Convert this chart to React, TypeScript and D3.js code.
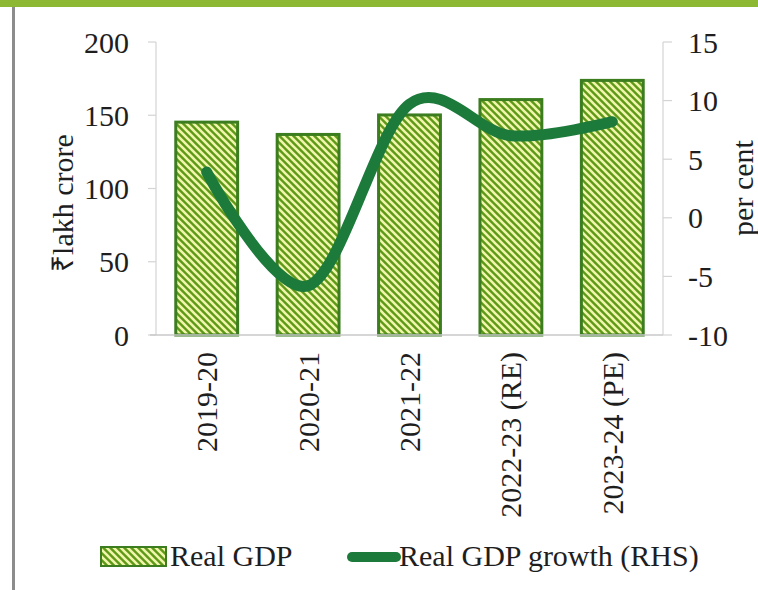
import React from "react";
import * as d3 from "d3";

const categories = ["2019-20", "2020-21", "2021-22", "2022-23 (RE)", "2023-24 (PE)"];
const realGdp = [145.3, 136.9, 150.2, 160.7, 173.8];
const growth = [3.9, -5.8, 9.7, 7.0, 8.2];
const leftTicks = [0, 50, 100, 150, 200];
const rightTicks = [-10, -5, 0, 5, 10, 15];
const legendLabels = ["Real GDP", "Real GDP growth (RHS)"];
const leftTitle = "₹lakh crore";
const rightTitle = "per cent";

const W = 758;
const H = 590;
const FONT = "'Liberation Serif', 'Times New Roman', serif";

export default function App() {
  const x0 = 156, x1 = 663, yTop = 42, yBot = 335;
  const x = d3.scaleBand<string>().domain(categories).range([x0, x1]).paddingInner(0.39).paddingOuter(0.195);
  const yL = d3.scaleLinear().domain([0, 200]).range([yBot, yTop]);
  const yR = d3.scaleLinear().domain([-10, 15]).range([yBot, yTop]);
  const cx = (c: string) => (x(c) as number) + x.bandwidth() / 2;
  const line = d3
    .line<number>()
    .x((_, i) => cx(categories[i]))
    .y((d) => yR(d))
    .curve(d3.curveCatmullRom.alpha(0));
  const axisColor = "#d4d4d4";
  const barFill = "#5e9a17";
  const barStroke = "#3b7d1f";
  const lineColor = "#1c7a3b";
  const textColor = "#1e1e1e";

  return (
    <svg width={W} height={H} style={{ position: "absolute", left: 0, top: 0, background: "#fff" }} fontFamily={FONT}>
      <defs>
        <pattern id="stripes" patternUnits="userSpaceOnUse" width={7} height={7}>
          <rect width={7} height={7} fill={barFill} />
          <path d="M-2,-2 L9,9 M-2,5 L2,9 M5,-2 L9,2" stroke="#f0f5ab" strokeWidth={2.6} />
        </pattern>
      </defs>
      {/* frame */}
      <rect x={0} y={0} width={W} height={7} fill="#8cb833" />
      <rect x={12} y={7} width={3} height={H - 7} fill="#8c8c8c" />

      {/* axes */}
      <line x1={x0} x2={x0} y1={yTop} y2={yBot} stroke={axisColor} strokeWidth={1.2} />
      <line x1={x1} x2={x1} y1={yTop} y2={yBot} stroke={axisColor} strokeWidth={1.2} />
      {leftTicks.map((t) => (
        <g key={"l" + t}>
          <line x1={x0 - 8} x2={x0} y1={yL(t)} y2={yL(t)} stroke={axisColor} strokeWidth={1.2} />
          <text x={129} y={yL(t)} dy="0.35em" textAnchor="end" fontSize={30} fill={textColor}>{t}</text>
        </g>
      ))}
      {rightTicks.map((t) => (
        <g key={"r" + t}>
          <line x1={x1} x2={x1 + 9} y1={yR(t)} y2={yR(t)} stroke={axisColor} strokeWidth={1.2} />
          <text x={688} y={yR(t)} dy="0.35em" textAnchor="start" fontSize={30} fill={textColor}>{t}</text>
        </g>
      ))}

      {/* bars */}
      {categories.map((c, i) => (
        <rect
          key={c}
          x={x(c) as number}
          y={yL(realGdp[i])}
          width={x.bandwidth()}
          height={yL(0) - yL(realGdp[i])}
          fill="url(#stripes)"
          stroke={barStroke}
          strokeWidth={3}
        />
      ))}
      <line x1={x0 - 6} x2={x1} y1={yBot} y2={yBot} stroke="#c8c8c8" strokeWidth={1.5} />

      {/* growth line */}
      <path d={line(growth) || ""} fill="none" stroke={lineColor} strokeWidth={11} strokeLinecap="round" strokeLinejoin="round" />

      {/* category labels */}
      {categories.map((c) => (
        <text
          key={"c" + c}
          transform={`translate(${cx(c)},352) rotate(-90)`}
          dy="0.35em"
          textAnchor="end"
          fontSize={30}
          fill={textColor}
        >
          {c}
        </text>
      ))}

      {/* axis titles */}
      <text transform="translate(62,203) rotate(-90)" dy="0.35em" textAnchor="middle" fontSize={30} fill={textColor}>{leftTitle}</text>
      <text transform="translate(744,188) rotate(-90)" dy="0.3em" textAnchor="middle" fontSize={30} fill={textColor}>{rightTitle}</text>

      {/* legend */}
      <rect x={101} y={547} width={65} height={19} fill="url(#stripes)" stroke={barStroke} strokeWidth={2} />
      <text x={170} y={566} fontSize={30} fill={textColor}>{legendLabels[0]}</text>
      <line x1={352} x2={396} y1={557} y2={557} stroke={lineColor} strokeWidth={10} strokeLinecap="round" />
      <text x={399} y={566} fontSize={30} fill={textColor}>{legendLabels[1]}</text>
    </svg>
  );
}
